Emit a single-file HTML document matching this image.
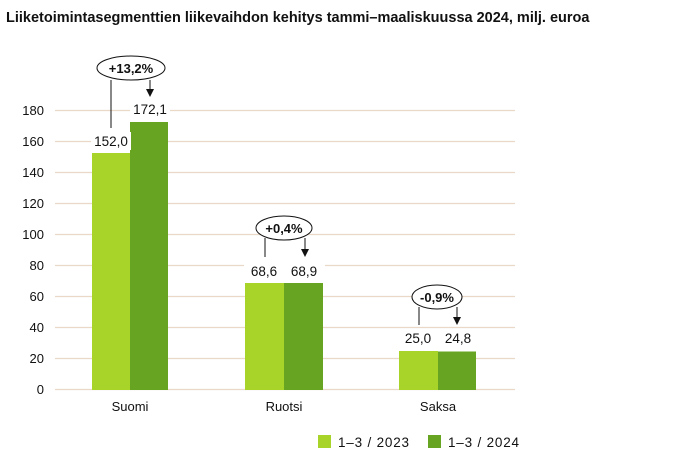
<!DOCTYPE html>
<html><head><style>body{margin:0;background:#fff}svg{display:block}text{font-family:"Liberation Sans",sans-serif}</style></head><body>
<svg width="696" height="460" viewBox="0 0 696 460">
<text x="6" y="22" font-size="14.5" font-weight="bold" fill="#111">Liiketoimintasegmenttien liikevaihdon kehitys tammi–maaliskuussa 2024, milj. euroa</text>
<g stroke="#ead9c6" stroke-width="1.2">
<line x1="55" x2="515" y1="110.5" y2="110.5"/><line x1="55" x2="515" y1="141.5" y2="141.5"/><line x1="55" x2="515" y1="172.5" y2="172.5"/><line x1="55" x2="515" y1="203.5" y2="203.5"/><line x1="55" x2="515" y1="234.5" y2="234.5"/><line x1="55" x2="515" y1="265.5" y2="265.5"/><line x1="55" x2="515" y1="296.5" y2="296.5"/><line x1="55" x2="515" y1="327.5" y2="327.5"/><line x1="55" x2="515" y1="358.5" y2="358.5"/><line x1="55" x2="515" y1="389.5" y2="389.5"/>
</g>
<g font-size="13" fill="#111" text-anchor="end">
<text x="44" y="115">180</text><text x="44" y="146">160</text><text x="44" y="177">140</text><text x="44" y="208">120</text><text x="44" y="239">100</text><text x="44" y="270">80</text><text x="44" y="301">60</text><text x="44" y="332">40</text><text x="44" y="363">20</text><text x="44" y="394">0</text>
</g>
<rect x="92" y="153" width="38" height="237" fill="#a8d42a"/><rect x="130" y="122" width="38" height="268" fill="#66a421"/>
<rect x="245" y="283" width="39" height="107" fill="#a8d42a"/><rect x="284" y="283" width="39" height="107" fill="#66a421"/>
<rect x="399" y="351" width="39" height="39" fill="#a8d42a"/><rect x="438" y="351.5" width="38" height="38.5" fill="#66a421"/>
<g font-size="13.5" fill="#111" text-anchor="middle">
<rect x="91" y="132" width="40" height="18" fill="#fff"/><text x="111" y="146">152,0</text>
<rect x="130" y="100" width="40" height="18" fill="#fff"/><text x="150" y="114">172,1</text>
<rect x="244" y="262" width="41" height="18" fill="#fff"/><text x="264" y="276">68,6</text>
<rect x="284" y="262" width="41" height="18" fill="#fff"/><text x="304" y="276">68,9</text>
<rect x="397" y="330" width="42" height="18" fill="#fff"/><text x="418" y="343">25,0</text>
<rect x="437" y="330" width="42" height="18" fill="#fff"/><text x="458" y="343">24,8</text>
</g>
<g font-size="13" fill="#111" text-anchor="middle">
<text x="130" y="411">Suomi</text><text x="284" y="411">Ruotsi</text><text x="438" y="411">Saksa</text>
</g>
<g stroke="#111" stroke-width="1" fill="#fff">
<line x1="111" y1="80" x2="111" y2="128"/><line x1="150" y1="80" x2="150" y2="90"/>
<ellipse cx="131" cy="68" rx="34" ry="12"/>
<line x1="265" y1="238" x2="265" y2="257"/><line x1="305" y1="238" x2="305" y2="250"/>
<ellipse cx="284" cy="228" rx="28" ry="12"/>
<line x1="419" y1="307" x2="419" y2="325"/><line x1="457" y1="307" x2="457" y2="318"/>
<ellipse cx="437" cy="297" rx="25" ry="12"/>
</g>
<g fill="#111">
<path d="M146,89 L154,89 L150,97z"/><path d="M301,249 L309,249 L305,257z"/><path d="M453,317 L461,317 L457,325z"/>
</g>
<g font-size="13" font-weight="bold" fill="#111" text-anchor="middle">
<text x="131" y="73">+13,2%</text><text x="284" y="233">+0,4%</text><text x="437" y="302">-0,9%</text>
</g>
<rect x="318" y="435" width="13" height="13" fill="#a8d42a"/><text x="338" y="447" font-size="13.5" fill="#111" letter-spacing="0.8">1–3 / 2023</text>
<rect x="428" y="435" width="13" height="13" fill="#66a421"/><text x="448" y="447" font-size="13.5" fill="#111" letter-spacing="0.8">1–3 / 2024</text>
</svg>
</body></html>
